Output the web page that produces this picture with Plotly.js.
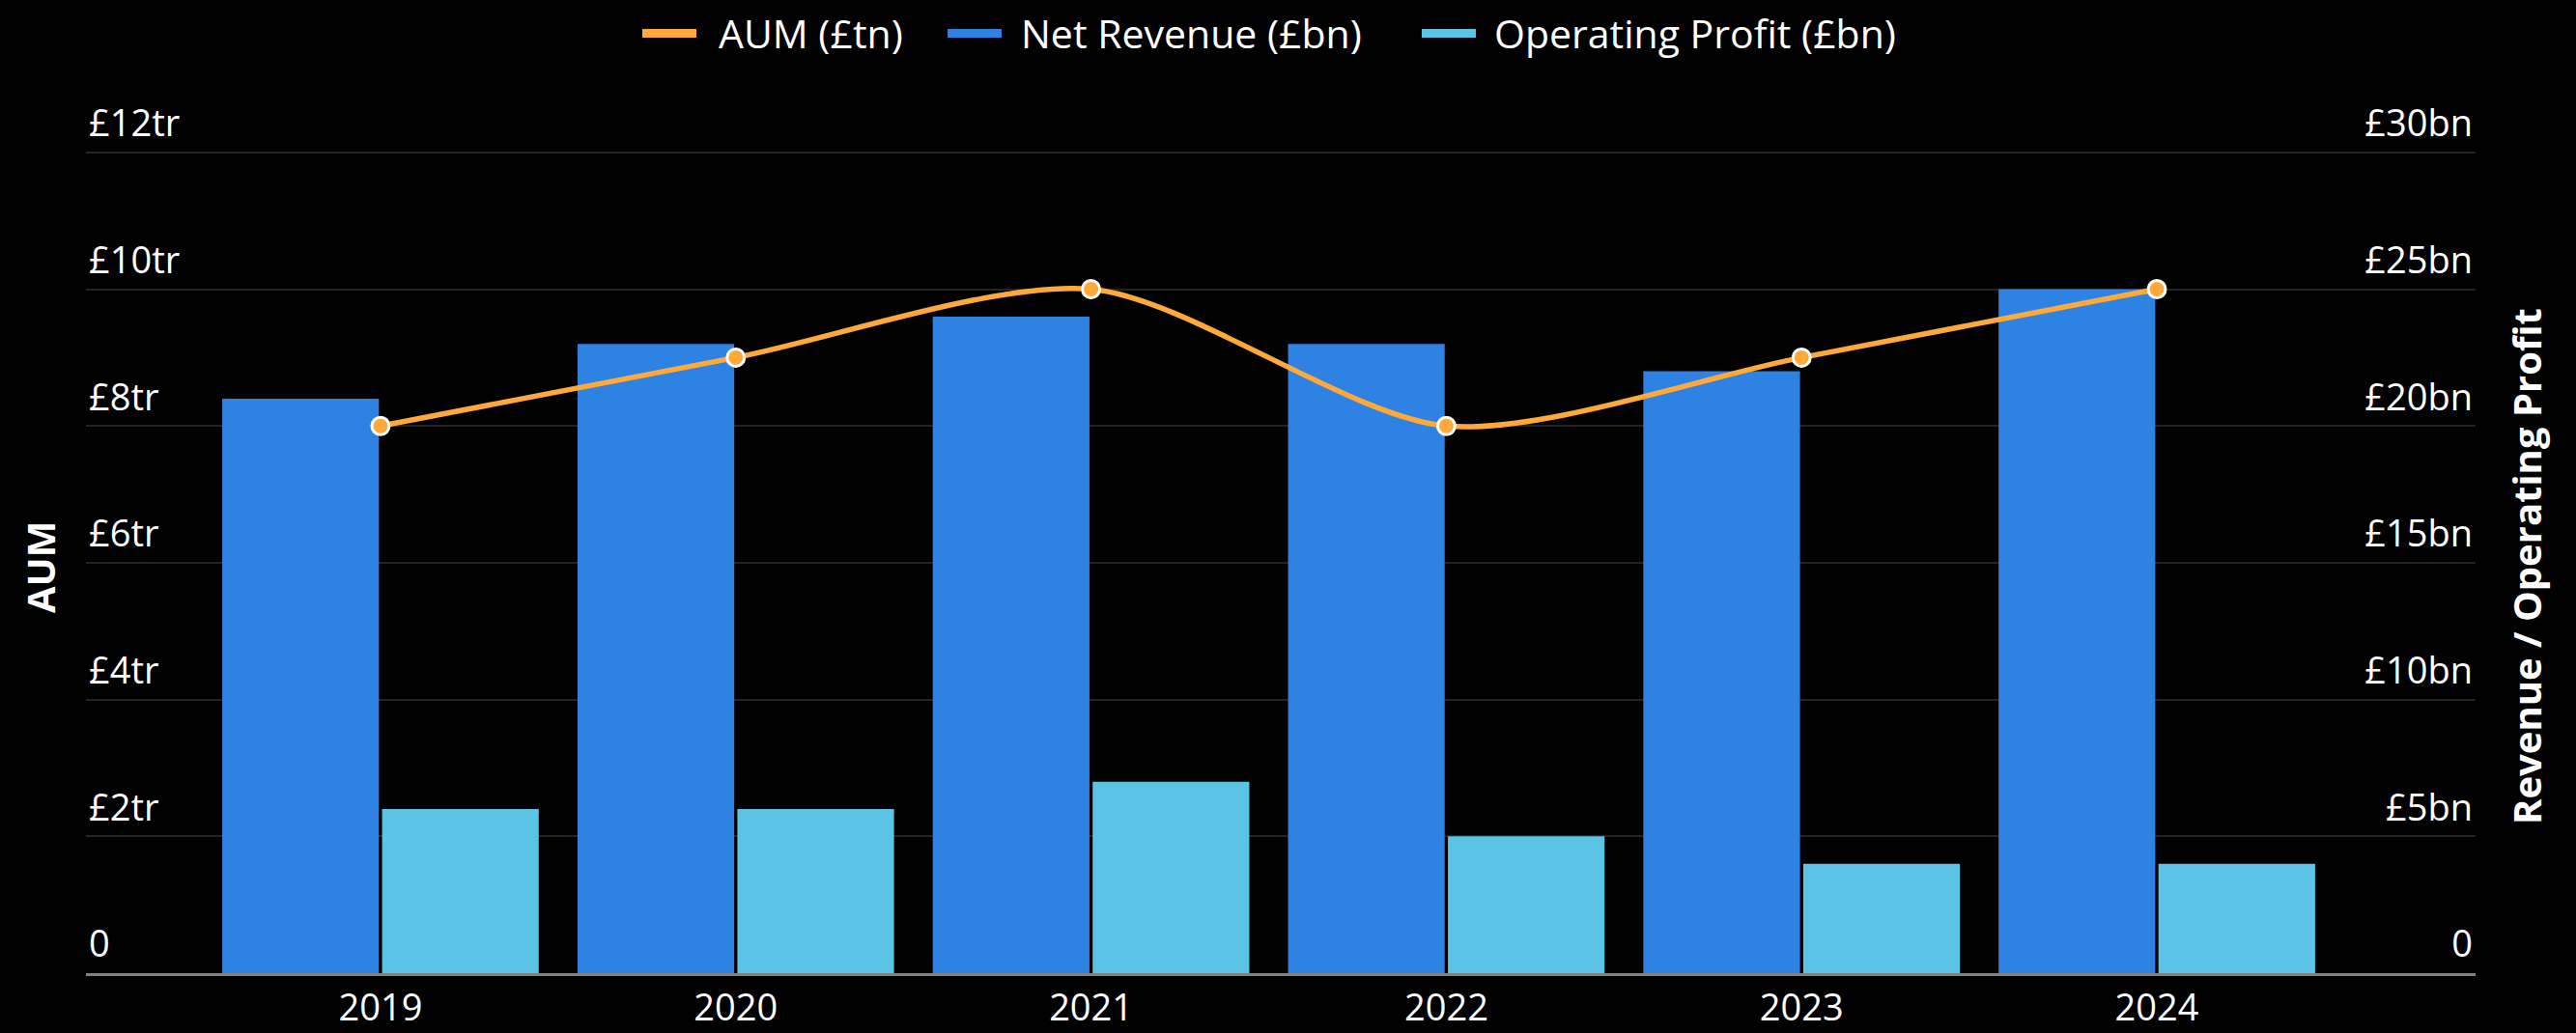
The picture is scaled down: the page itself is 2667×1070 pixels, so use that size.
<!DOCTYPE html>
<html>
<head>
<meta charset="utf-8">
<script src="https://cdn.plot.ly/plotly-3.0.1.min.js"></script>
<style>
  html, body { margin: 0; padding: 0; background: #000; }
  #chart { width: 2667px; height: 1070px; }
</style>
</head>
<body>
<div id="chart"></div>
<script>
const years = ['2019', '2020', '2021', '2022', '2023', '2024'];
const aumTn = [8, 9, 10, 8, 9, 10];
const netRevenueBn = [21, 23, 24, 23, 22, 25];
const operatingProfitBn = [6, 6, 7, 5, 4, 4];

const aumTickVals = [0, 2, 4, 6, 8, 10, 12];
const aumTickText = ['0', '£2tr', '£4tr', '£6tr', '£8tr', '£10tr', '£12tr'];
const revTickVals = [0, 5, 10, 15, 20, 25, 30];
const revTickText = ['0', '£5bn', '£10bn', '£15bn', '£20bn', '£25bn', '£30bn'];

const seriesNames = ['AUM (£tn)', 'Net Revenue (£bn)', 'Operating Profit (£bn)'];
const seriesColors = ['#FFA93A', '#2E82E3', '#5BC4E6'];
const axisTitles = ['AUM', 'Revenue / Operating Profit'];

const FONT = '"Open Sans", "DejaVu Sans", sans-serif';

// geometry: the top gridline (12tr / 30bn) sits at y=158px, zero at y=1008px.
// The plot area extends above the top gridline so that the shifted top labels stay visible.
const W = 2667, H = 1070;
const aumMax = 13, revMax = 32.5;
const zeroPx = 1008, topTickPx = 158;
const pxPerTr = (zeroPx - topTickPx) / 12;
const M = { l: 89, r: 104, b: H - zeroPx };
M.t = Math.round(zeroPx - pxPerTr * aumMax);
const plotW = W - M.l - M.r, plotH = H - M.t - M.b;
const px2x = p => (p - M.l) / plotW;
const py2y = p => (H - M.b - p) / plotH;

// manual legend layout (px)
const legendSymbolLeft = [665, 981, 1472];
const legendTextLeft = [743, 1056, 1546];
const legendSymW = 56, legendSymTop = 30, legendSymBot = 39, legendMidY = 34;

// axis title centres (px)
const axisTitleX = [41, 2615];
const axisTitleY = (zeroPx + topTickPx) / 2 + 4;

const traces = [
  {
    type: 'bar', name: seriesNames[1], x: years, y: netRevenueBn,
    xaxis: 'x', yaxis: 'y', marker: { color: seriesColors[1] },
    offsetgroup: 'rev'
  },
  {
    type: 'bar', name: seriesNames[2], x: years, y: operatingProfitBn,
    xaxis: 'x', yaxis: 'y', marker: { color: seriesColors[2] },
    offsetgroup: 'op'
  },
  {
    type: 'scatter', mode: 'lines+markers', name: seriesNames[0], x: years, y: aumTn,
    xaxis: 'x', yaxis: 'y2',
    line: { color: seriesColors[0], width: 5.5, shape: 'spline', smoothing: 0.8 },
    marker: { color: seriesColors[0], size: 18, line: { color: '#FFFFFF', width: 3 } }
  }
];

const shapes = seriesNames.map((n, i) => ({
  type: 'rect', xref: 'paper', yref: 'paper',
  x0: px2x(legendSymbolLeft[i]), x1: px2x(legendSymbolLeft[i] + legendSymW),
  y0: py2y(legendSymBot), y1: py2y(legendSymTop),
  fillcolor: seriesColors[i], line: { width: 0 }
}));

const annotations = seriesNames.map((n, i) => ({
  text: n, xref: 'paper', yref: 'paper',
  x: px2x(legendTextLeft[i]), y: py2y(legendMidY),
  xanchor: 'left', yanchor: 'middle', showarrow: false,
  borderpad: 0,
  font: { family: FONT, size: 41, color: '#FFFFFF' }
})).concat(axisTitles.map((t, i) => ({
  text: '<b>' + t + '</b>', xref: 'paper', yref: 'paper',
  x: px2x(axisTitleX[i]), y: py2y(axisTitleY),
  xanchor: 'center', yanchor: 'middle', showarrow: false,
  textangle: -90, borderpad: 0,
  font: { family: FONT, size: 40, color: '#FFFFFF' }
})));

const layout = {
  width: W, height: H,
  paper_bgcolor: '#000000', plot_bgcolor: '#000000',
  font: { family: FONT, color: '#FFFFFF', size: 38 },
  margin: { l: M.l, r: M.r, t: M.t, b: M.b, pad: 0, autoexpand: false },
  barmode: 'group', bargap: 0.1, bargroupgap: 0.02,
  showlegend: false,
  shapes: shapes,
  annotations: annotations,
  xaxis: {
    type: 'category', range: [-0.829, 5.897],
    showgrid: false, zeroline: false,
    showline: true, linecolor: '#808080', linewidth: 3,
    ticks: '', tickfont: { family: FONT, size: 38, color: '#FFFFFF' },
    ticklabelstandoff: 0
  },
  yaxis: {
    side: 'right', range: [0, revMax],
    tickvals: revTickVals, ticktext: revTickText,
    ticklabelposition: 'inside', ticklabelshift: -30, ticklabelstandoff: 0,
    showgrid: true, gridcolor: '#232323', gridwidth: 2,
    zeroline: false, showline: false, ticks: '',
    tickfont: { family: FONT, size: 38, color: '#FFFFFF' }
  },
  yaxis2: {
    side: 'left', overlaying: 'y', range: [0, aumMax],
    tickvals: aumTickVals, ticktext: aumTickText,
    ticklabelposition: 'inside', ticklabelshift: -30, ticklabelstandoff: 0,
    showgrid: false, zeroline: false, showline: false, ticks: '',
    tickfont: { family: FONT, size: 38, color: '#FFFFFF' }
  }
};

Plotly.newPlot('chart', traces, layout, { displayModeBar: false, responsive: false });
</script>
</body>
</html>
